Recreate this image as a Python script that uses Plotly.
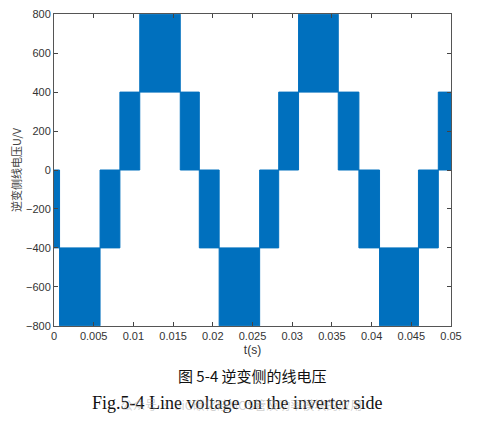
import plotly.graph_objects as go

t_start = [0, 0.0007, 0.0058, 0.0083, 0.0108, 0.0159, 0.0183, 0.0208, 0.0259, 0.0283, 0.0308, 0.0358, 0.0384, 0.0410, 0.0459, 0.0484]
t_end   = [0.0007, 0.0058, 0.0083, 0.0108, 0.0159, 0.0183, 0.0208, 0.0259, 0.0283, 0.0308, 0.0358, 0.0384, 0.0410, 0.0459, 0.0484, 0.05]
v_low   = [-400, -800, -400, 0, 400, 0, -400, -800, -400, 0, 400, 0, -400, -800, -400, 0]
v_high  = [0, -400, 0, 400, 800, 400, 0, -400, 0, 400, 800, 400, 0, -400, 0, 400]
xticks = [0, 0.005, 0.01, 0.015, 0.02, 0.025, 0.03, 0.035, 0.04, 0.045, 0.05]
xtick_text = ["0", "0.005", "0.01", "0.015", "0.02", "0.025", "0.03", "0.035", "0.04", "0.045", "0.05"]
yticks = [-800, -600, -400, -200, 0, 200, 400, 600, 800]

xs, ys = [], []
for a, b, lo, hi in zip(t_start, t_end, v_low, v_high):
    xs += [a, b, b, a, a, None]
    ys += [lo, lo, hi, hi, lo, None]

color = "#0070BE"
fig = go.Figure(go.Scatter(x=xs, y=ys, mode="lines", fill="toself", fillcolor=color,
                           line=dict(color=color, width=1), hoverinfo="skip", showlegend=False))
ax = dict(showline=True, mirror="allticks", linecolor="#555", linewidth=1, ticks="inside",
          ticklen=4, tickcolor="#444", showgrid=False, zeroline=False, automargin=False,
          tickfont=dict(family="Liberation Sans, Arial", size=11, color="#333"))
fig.update_xaxes(**ax, range=[0, 0.05], tickvals=xticks, ticktext=xtick_text,
                 title=dict(text="t(s)", font=dict(family="Liberation Sans", size=12, color="#333"), standoff=4))
fig.update_yaxes(**ax, range=[-801, 801], tickvals=yticks,
                 title=dict(text="逆变侧线电压U/V", font=dict(family="Noto Sans CJK SC", size=11, color="#444"), standoff=6))
fig.update_layout(width=478, height=421, margin=dict(l=46, r=35, t=6, b=103),
                  plot_bgcolor="white", paper_bgcolor="white")
fig.add_annotation(text="图 5-4 逆变侧的线电压", x=0.5, y=-0.2, xref="paper", yref="paper",
                   showarrow=False, font=dict(family="Noto Sans CJK SC", size=15, color="#111"))
fig.add_annotation(text="Fig.5-4 Line voltage on the inverter side", x=0.46, y=-0.285, xref="paper", yref="paper",
                   showarrow=False, font=dict(family="Liberation Serif", size=18, color="#111"))
fig.add_annotation(text="公众号 · SiC碳化硅MOS管及功率模块的应用", x=0.78, y=-0.285, xref="paper", yref="paper",
                   showarrow=False, font=dict(family="Noto Sans CJK SC", size=12, color="rgba(150,150,150,0.45)"))
fig.write_html("out.html")
